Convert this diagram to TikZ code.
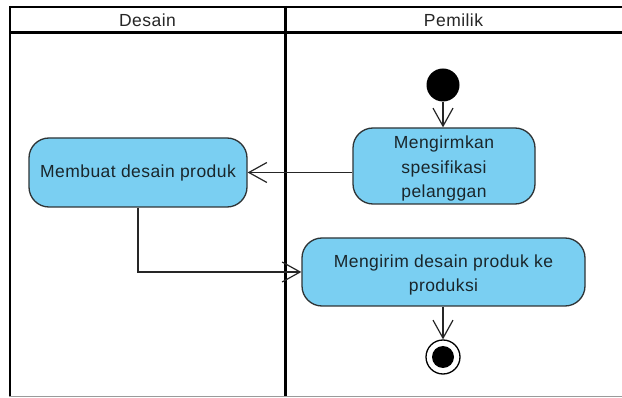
\documentclass[tikz,border=0pt]{standalone}
\usepackage{fontspec}
\setmainfont{Liberation Sans}
\newfontfamily\actfont[LetterSpace=2.5]{Liberation Sans}
\usetikzlibrary{arrows.meta}
\definecolor{actfill}{HTML}{7ACFF2}
\definecolor{boxline}{HTML}{2E3436}
\definecolor{txt}{HTML}{1A262B}
\definecolor{bottomline}{HTML}{9A9A9A}
\begin{document}
\begin{tikzpicture}[x=1pt,y=-1pt,
  lane/.style={line width=2pt, black},
  lanelabel/.style={font=\actfont\fontsize{17.5}{20}\selectfont, text=black!85, inner sep=0},
  act/.style={draw=boxline, fill=actfill, rounded corners=20pt, line width=1.3pt,
    align=center, font=\actfont\fontsize{17.5}{24.5}\selectfont, text=txt, inner sep=0},
  flow/.style={line width=1.3pt, black!85,
    -{Straight Barb[length=18pt,width=20pt,line width=1.2pt]}},
  startnode/.style={circle, fill=black, minimum size=33pt, inner sep=0},
  endnode/.style={circle, draw=black, line width=1.3pt, minimum size=34pt, inner sep=0}]
  \useasboundingbox (0,0) rectangle (622,398);
  \fill[white] (0,0) rectangle (622,398);

  % swimlane frame
  \draw[lane] (9,7) -- (622,7);
  \draw[lane, line width=2.6pt] (9,32.5) -- (622,32.5);
  \draw[lane] (10,6) -- (10,397);
  \draw[lane, line width=3pt] (285,6) -- (285,397);
  \draw[bottomline, line width=1pt] (9,397) -- (622,397);

  \node[lanelabel] (ldesain) at (147.5,20) {Desain};
  \node[lanelabel] (lpemilik) at (453.5,20) {Pemilik};

  % activities
  \node[startnode] (start) at (443,85) {};
  \node[act, minimum width=182pt, minimum height=76pt] (kirimspek) at (444,166) {};
  \node[txt, font=\actfont\fontsize{17.5}{24.5}\selectfont, align=center, inner sep=0]
    (kirimspektext) at (444,168.5) {Mengirmkan\\spesifikasi\\pelanggan};
  \node[act, minimum width=218pt, minimum height=69pt] (desain) at (138,172.5)
    {Membuat desain produk};
  \node[act, minimum width=283pt, minimum height=68pt] (kirimdesain) at (443.5,272) {};
  \node[txt, font=\actfont\fontsize{17.5}{23.5}\selectfont, align=center, inner sep=0]
    (kirimdesaintext) at (443.5,275) {Mengirim desain produk ke\\produksi};
  \node[endnode] (end) at (443,357) {};
  \fill[black] (end.center) circle (11pt);

  % flows
  \draw[flow] (start.south) -- (start.south |- kirimspek.north);
  \draw[flow] (kirimspek.west |- desain.east) -- (desain.east);
  \draw[flow] (desain.south) |- (kirimdesain.west);
  \draw[flow] (kirimdesain.south -| end.north) -- (end.north);
\end{tikzpicture}
\end{document}
